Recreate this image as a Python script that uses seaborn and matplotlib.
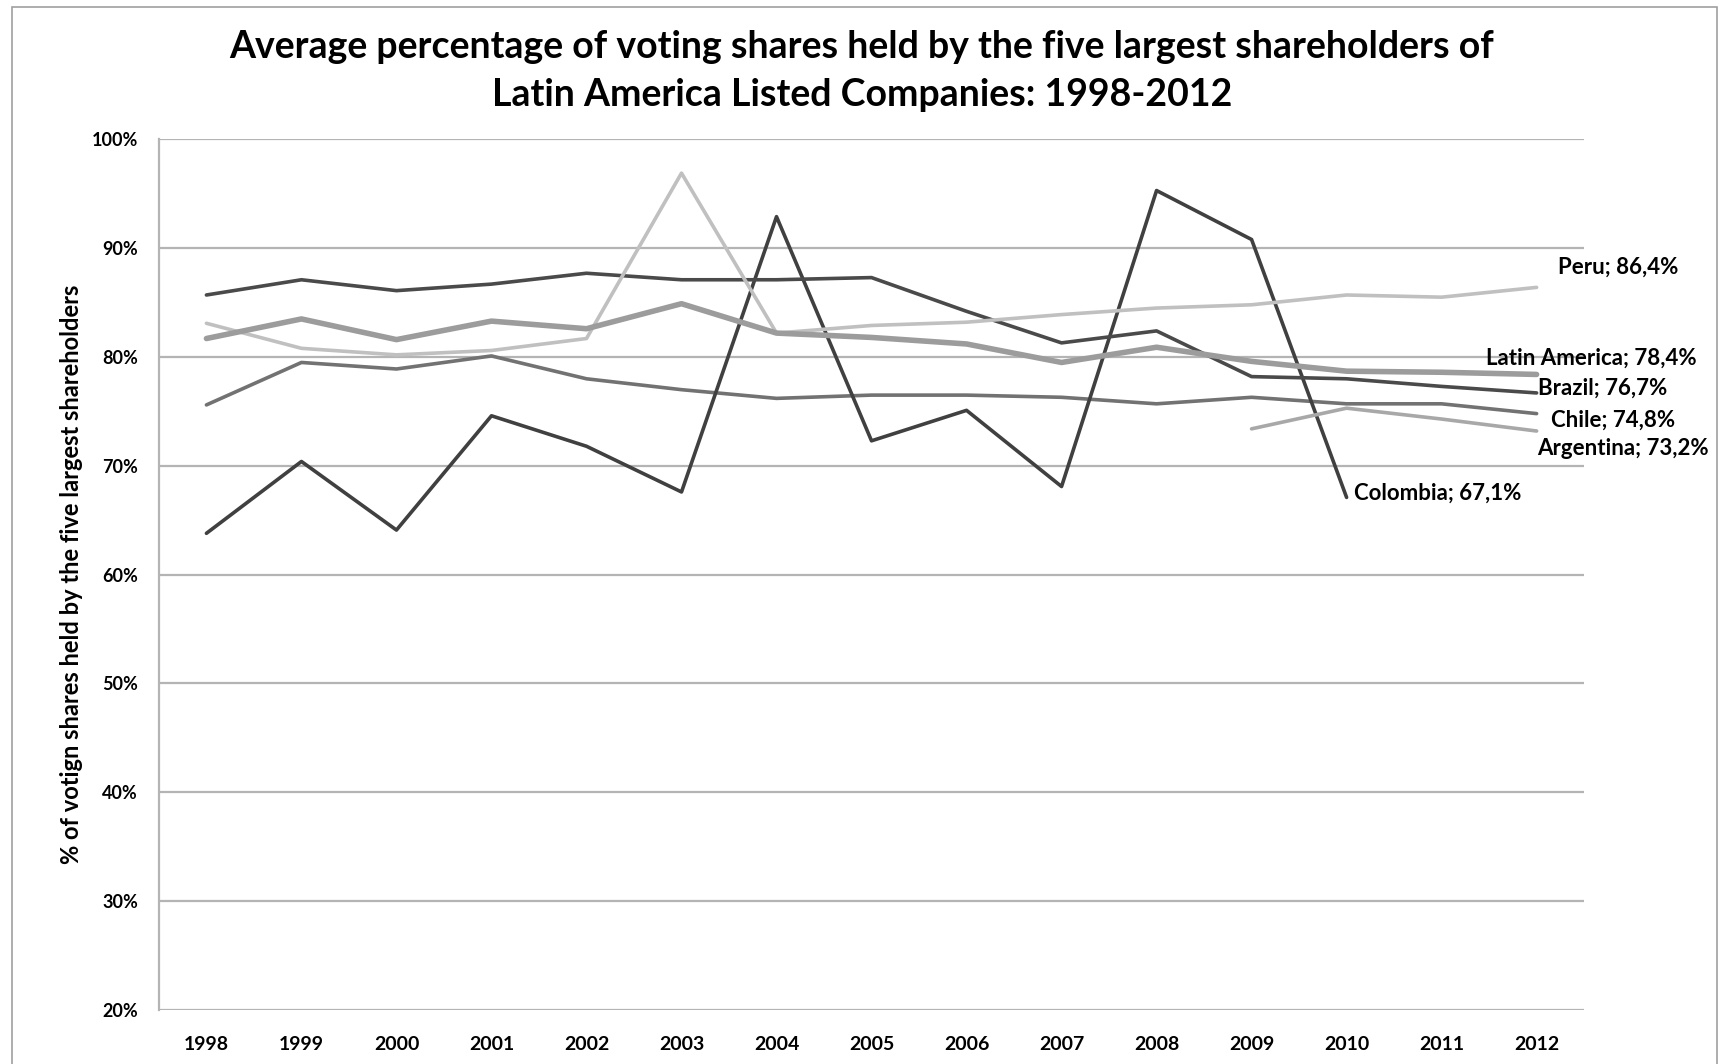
import pandas as pd
import matplotlib.pyplot as plt
import matplotlib.patches as patches
import seaborn as sns

# values (percent)
years = list(range(1998, 2013))
brazil = [85.7, 87.1, 86.1, 86.7, 87.7, 87.1, 87.1, 87.3, 84.2, 81.3, 82.4, 78.2, 78.0, 77.3, 76.7]
peru = [83.1, 80.8, 80.2, 80.6, 81.7, 96.9, 82.2, 82.9, 83.2, 83.9, 84.5, 84.8, 85.7, 85.5, 86.4]
latin_america = [81.7, 83.5, 81.6, 83.3, 82.6, 84.9, 82.2, 81.8, 81.2, 79.5, 80.9, 79.6, 78.7, 78.6, 78.4]
chile = [75.6, 79.5, 78.9, 80.1, 78.0, 77.0, 76.2, 76.5, 76.5, 76.3, 75.7, 76.3, 75.7, 75.7, 74.8]
colombia = [63.8, 70.4, 64.1, 74.6, 71.8, 67.6, 92.9, 72.3, 75.1, 68.1, 95.3, 90.8, 67.1]
argentina_years = [2009, 2010, 2011, 2012]
argentina = [73.4, 75.3, 74.3, 73.2]

end_labels = {
    'Peru': 'Peru; 86,4%',
    'Latin America': 'Latin America; 78,4%',
    'Brazil': 'Brazil; 76,7%',
    'Chile': 'Chile; 74,8%',
    'Argentina': 'Argentina; 73,2%',
    'Colombia': 'Colombia; 67,1%',
}

series = {
    'Brazil': (years, brazil),
    'Peru': (years, peru),
    'Latin America': (years, latin_america),
    'Chile': (years, chile),
    'Colombia': (years[:len(colombia)], colombia),
    'Argentina': (argentina_years, argentina),
}
rows = []
for name, (xs, ys) in series.items():
    for x, y in zip(xs, ys):
        rows.append({'year': x, 'value': y, 'country': name})
df = pd.DataFrame(rows)

palette = {'Brazil': '#4a4a4a', 'Colombia': '#404040', 'Peru': '#c0c0c0',
           'Latin America': '#9c9c9c', 'Chile': '#727272', 'Argentina': '#a8a8a8'}
sizes = {'Brazil': 2.6, 'Colombia': 2.6, 'Peru': 2.6, 'Latin America': 4.0,
         'Chile': 2.6, 'Argentina': 2.6}

sns.set_style('white')
plt.rcParams['font.family'] = ['Lato', 'DejaVu Sans']
plt.rcParams['text.color'] = 'black'
plt.rcParams['xtick.color'] = 'black'
plt.rcParams['ytick.color'] = 'black'

fig = plt.figure(figsize=(17.2, 10.64), dpi=100)
ax = fig.add_axes([0.0924, 0.0508, 0.8286, 0.8182])

sns.lineplot(data=df, x='year', y='value', hue='country', size='country',
             palette=palette, sizes=sizes, legend=False, ax=ax,
             hue_order=['Chile', 'Colombia', 'Brazil', 'Peru', 'Argentina', 'Latin America'])

ax.set_xlim(1997.5, 2012.5)
ax.set_ylim(20, 100)
ax.set_yticks(range(20, 101, 10))
ax.set_yticklabels([f'{v}%' for v in range(20, 101, 10)], fontsize=13, fontweight='bold')
ax.set_xticks(years)
ax.set_xticklabels([str(y) for y in years], fontsize=14, fontweight='bold')
ax.tick_params(axis='both', length=0)
ax.tick_params(axis='x', pad=19)
ax.tick_params(axis='y', pad=15)
ax.grid(axis='y', color='#b4b4b4', linewidth=1.6)
ax.set_axisbelow(True)
for side in ['top', 'right', 'bottom']:
    ax.spines[side].set_visible(False)
ax.spines['left'].set_color('#b4b4b4')
ax.spines['left'].set_linewidth(1.6)

ax.set_xlabel('')
ax.set_ylabel('% of votign shares held by the five largest shareholders',
              fontsize=17, fontweight='bold', labelpad=6, color='black')

# end labels
label_pos = {
    'Peru': (2012.86, 88.3),
    'Latin America': (2012.58, 79.9),
    'Brazil': (2012.70, 77.1),
    'Chile': (2012.80, 74.2),
    'Argentina': (2012.91, 71.6),
    'Colombia': (2010.96, 67.5),
}
for name, (lx, ly) in label_pos.items():
    ax.text(lx, ly, end_labels[name], ha='center', va='center', fontsize=16,
            fontweight='bold', clip_on=False)

fig.suptitle('Average percentage of voting shares held by the five largest shareholders of\n'
             'Latin America Listed Companies: 1998-2012',
             x=0.501, y=0.972, fontsize=27, fontweight='bold', linespacing=1.5)

fig.patches.append(patches.Rectangle((0.007, -0.01), 0.991, 1.003, transform=fig.transFigure,
                                     fill=False, edgecolor='#a0a0a0', linewidth=1.2))

fig.savefig('out.png', dpi=100)
